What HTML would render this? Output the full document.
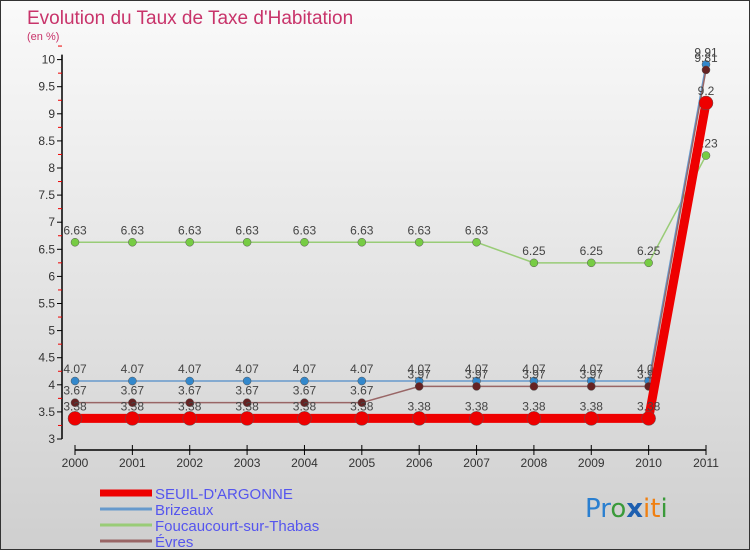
<!DOCTYPE html>
<html><head><meta charset="utf-8"><style>
body{margin:0}
svg{display:block;font-family:"Liberation Sans",sans-serif}
</style></head><body>
<svg id="chart" width="750" height="550" viewBox="0 0 750 550">
<defs><linearGradient id="bg" x1="0" y1="0" x2="0" y2="1"><stop offset="0" stop-color="#fafafa"/><stop offset="1" stop-color="#cfcfcf"/></linearGradient></defs>
<rect x="0.5" y="0.5" width="749" height="549" fill="url(#bg)" stroke="#333"/>
<text x="27" y="24" font-size="19" fill="#c8336a">Evolution du Taux de Taxe d'Habitation</text>
<text x="27" y="40" font-size="11" fill="#c8336a">(en %)</text>
<g id="axes"></g><g id="series"></g><g id="legend"></g>
<text x="585" y="517" font-size="26" font-family="'DejaVu Sans',sans-serif"><tspan fill="#2a7fd0">Pr</tspan><tspan fill="#3a9a3a">o</tspan><tspan fill="#1e5fb0" font-weight="bold">x</tspan><tspan fill="#f07f10">it</tspan><tspan fill="#3a9a3a">i</tspan></text>
</svg>
<script>
const years=["2000","2001","2002","2003","2004","2005","2006","2007","2008","2009","2010","2011"];
const yTicks=[3,3.5,4,4.5,5,5.5,6,6.5,7,7.5,8,8.5,9,9.5,10];
const seuil=[3.38,3.38,3.38,3.38,3.38,3.38,3.38,3.38,3.38,3.38,3.38,9.2];
const brizeaux=[4.07,4.07,4.07,4.07,4.07,4.07,4.07,4.07,4.07,4.07,4.07,9.91];
const foucaucourt=[6.63,6.63,6.63,6.63,6.63,6.63,6.63,6.63,6.25,6.25,6.25,8.23];
const evres=[3.67,3.67,3.67,3.67,3.67,3.67,3.97,3.97,3.97,3.97,3.97,9.81];
const NS="http://www.w3.org/2000/svg";
const xS=i=>75+i*(631/11);
const yS=v=>439-(v-3)*54.2;
function mk(t,a,p){const e=document.createElementNS(NS,t);for(const k in a)e.setAttribute(k,a[k]);p.appendChild(e);return e;}
const ax=document.getElementById('axes');
let yl=mk('line',{x1:62,y1:yS(10)-5,x2:62,y2:yS(3),stroke:'#000','stroke-width':1.5},ax);


yTicks.forEach(v=>{
 mk('line',{x1:57,x2:62,y1:yS(v),y2:yS(v),stroke:'#000'},ax);
 mk('line',{x1:58,x2:62,y1:yS(v+0.25),y2:yS(v+0.25),stroke:'#e00'},ax);
 const t=mk('text',{x:55,y:yS(v)+4,'text-anchor':'end','font-size':12,fill:'#333'},ax);
 t.textContent=String(v);
 
 
});
let xl=mk('line',{x1:75,y1:450,x2:706,y2:450,stroke:'#000','stroke-width':1.5},ax);


years.forEach((y,i)=>{
 mk('line',{x1:xS(i),x2:xS(i),y1:445,y2:455,stroke:'#000'},ax);
 const t=mk('text',{x:xS(i),y:467,'text-anchor':'middle','font-size':12,fill:'#333'},ax);
 t.textContent=y;
 
 
});
const sg=document.getElementById('series');
function draw(vals,color,dot,w,r,name){
 const g=mk('g',{},sg);
 
 
 mk('polyline',{points:vals.map((v,i)=>xS(i)+','+yS(v)).join(' '),fill:'none',stroke:color,'stroke-width':w},g);
 vals.forEach((v,i)=>{
  const c=mk('circle',{cx:xS(i),cy:yS(v),r:r,fill:dot,stroke:'#555','stroke-width':0.5},g);
  
  
  const t=mk('text',{x:xS(i),y:yS(v)-8,'text-anchor':'middle','font-size':12,fill:'#444'},g);
  t.textContent=String(v);
  
  
 });
}
draw(foucaucourt,'#99cc77','#77cc44',1.5,4,'series-foucaucourt');
draw(brizeaux,'#6699cc','#3388cc',1.5,4,'series-brizeaux');
draw(evres,'#996666','#662222',1.5,4,'series-evres');
draw(seuil,'#ee0000','#ee0000',9,7,'series-seuil');
const lg=document.getElementById('legend');
const leg=[["SEUIL-D'ARGONNE",'#ee0000',7],["Brizeaux",'#6699cc',3],["Foucaucourt-sur-Thabas",'#99cc77',3],["Évres",'#996666',3]];
leg.forEach((l,i)=>{
 const y=493+i*16;
 const g=mk('g',{},lg);
 
 
 mk('line',{x1:100,x2:152,y1:y,y2:y,stroke:l[1],'stroke-width':l[2]},g);
 const t=mk('text',{x:155,y:y+6,'font-size':15,fill:'#5555ee'},g);
 t.textContent=l[0];
});
</script>
</body></html>
